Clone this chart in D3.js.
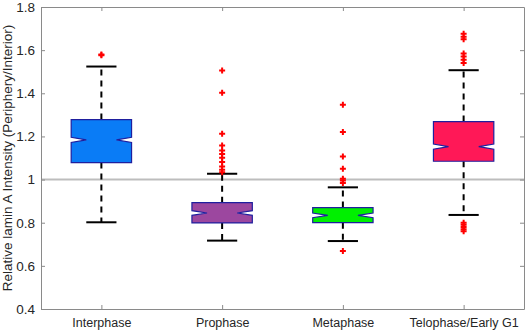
<!DOCTYPE html>
<html>
<head>
<meta charset="utf-8">
<script src="https://cdn.jsdelivr.net/npm/d3@7"></script>
<style>
  body { margin: 0; background: #fff; }
  svg text { font-family: "Liberation Sans", Arial, sans-serif; fill: #262626; }
</style>
</head>
<body>
<svg id="chart" width="526" height="332"></svg>
<script>
// data
var phases = ['Interphase', 'Prophase', 'Metaphase', 'Telophase/Early G1']
var colors = ['#0a7cf6', '#9c479f', '#00f000', '#ff1857']
var q1 = [1.079, 0.799, 0.800, 1.085]
var medians = [1.184, 0.845, 0.834, 1.153]
var q3 = [1.278, 0.893, 0.870, 1.269]
var whiskerLo = [0.802, 0.717, 0.715, 0.836]
var whiskerHi = [1.524, 1.027, 0.964, 1.507]
var notchHalf = [0.012, 0.011, 0.011, 0.012]
var outliers = [
    [1.58, 1.576],
    [1.506, 1.403, 1.212, 1.158, 1.135, 1.119, 1.101, 1.081, 1.061, 1.045, 1.034],
    [1.347, 1.221, 1.107, 1.050, 1.004, 0.996, 0.984, 0.669],
    [1.676, 1.662, 1.650, 1.585, 1.570, 1.555, 1.540, 0.800, 0.790, 0.780, 0.770, 0.760]
]
var yTicks = [0.4, 0.6, 0.8, 1, 1.2, 1.4, 1.6, 1.8]
var refValue = 1

var margin = { top: 7, right: 2, bottom: 23, left: 41 }
var width = 526 - margin.left - margin.right,
    height = 332 - margin.top - margin.bottom

var svg = d3.select('#chart')
    .append('g')
    .attr('transform', 'translate(' + margin.left + ',' + margin.top + ')')

var x = d3.scaleLinear().domain([0.5, 4.5]).range([0, width])
var y = d3.scaleLinear().domain([0.4, 1.8]).range([height, 0])

var boxW = x(1.25) - x(1)      // half of box width
var capW = boxW / 2
var notchIn = boxW / 2

// reference line at 1
svg.append('line')
    .attr('x1', 0).attr('x2', width)
    .attr('y1', y(refValue)).attr('y2', y(refValue))
    .attr('stroke', '#bdbdbd')
    .attr('stroke-width', 2)

var groups = svg.selectAll('.grp')
    .data(phases)
    .enter()
    .append('g')
    .attr('class', 'grp')

groups.each(function (d, i) {
    var g = d3.select(this)
    var cx = x(i + 1)
    // whiskers
    g.append('line')
        .attr('x1', cx).attr('x2', cx)
        .attr('y1', y(q3[i])).attr('y2', y(whiskerHi[i]))
        .attr('stroke', '#000').attr('stroke-width', 2).attr('stroke-dasharray', '6,5')
    g.append('line')
        .attr('x1', cx).attr('x2', cx)
        .attr('y1', y(q1[i])).attr('y2', y(whiskerLo[i]))
        .attr('stroke', '#000').attr('stroke-width', 2).attr('stroke-dasharray', '6,5')
    ;[whiskerHi[i], whiskerLo[i]].forEach(function (v) {
        g.append('line')
            .attr('x1', cx - capW).attr('x2', cx + capW)
            .attr('y1', y(v)).attr('y2', y(v))
            .attr('stroke', '#000').attr('stroke-width', 2)
    })

    // notched box
    var l = cx - boxW, r = cx + boxW
    var pts = [
        [l, y(q3[i])], [r, y(q3[i])],
        [r, y(medians[i] + notchHalf[i])], [r - notchIn, y(medians[i])], [r, y(medians[i] - notchHalf[i])],
        [r, y(q1[i])], [l, y(q1[i])],
        [l, y(medians[i] - notchHalf[i])], [l + notchIn, y(medians[i])], [l, y(medians[i] + notchHalf[i])]
    ]
    g.append('path')
        .attr('d', d3.line()(pts) + 'Z')
        .attr('fill', colors[i])
        .attr('stroke', '#1f1f9e')
        .attr('stroke-width', 1.2)

    // outliers
    g.selectAll('.out')
        .data(outliers[i])
        .enter()
        .append('path')
        .attr('class', 'out')
        .attr('d', function (v) {
            var py = y(v)
            return 'M' + (cx - 3) + ',' + py + 'H' + (cx + 3) + 'M' + cx + ',' + (py - 3) + 'V' + (py + 3)
        })
        .attr('stroke', '#ff0000')
        .attr('stroke-width', 2)
})

// axes, ticks pointing inside
var axisColor = '#8a8a8a'
var yAxis = d3.axisLeft(y).tickValues(yTicks).tickSizeInner(-4).tickSizeOuter(0)
    .tickPadding(6).tickFormat(d3.format('~g'))
var gy = svg.append('g').call(yAxis)
gy.selectAll('text').style('font-size', '13.5px')

svg.append('g').attr('transform', 'translate(' + width + ',0)')
    .call(d3.axisRight(y).tickValues(yTicks).tickSizeInner(-4).tickSizeOuter(0).tickFormat(''))

var xAxis = d3.axisBottom(x).tickValues([1, 2, 3, 4]).tickSizeInner(-4).tickSizeOuter(0)
    .tickPadding(9).tickFormat(function (d) { return phases[d - 1] })
var gx = svg.append('g').attr('transform', 'translate(0,' + height + ')').call(xAxis)
gx.selectAll('text').style('font-size', '12.5px')

svg.append('g')
    .call(d3.axisTop(x).tickValues([1, 2, 3, 4]).tickSizeInner(-4).tickSizeOuter(0).tickFormat(''))

svg.selectAll('.domain, .tick line').attr('stroke', axisColor)

svg.append('text')
    .attr('transform', 'translate(' + (-29) + ',' + (height / 2) + ') rotate(-90)')
    .attr('text-anchor', 'middle')
    .style('font-size', '13.5px')
    .text('Relative lamin A Intensity (Periphery/Interior)')
</script>
</body>
</html>
